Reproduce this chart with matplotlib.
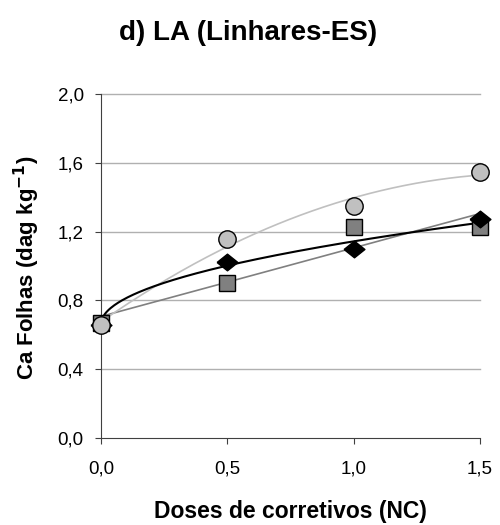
import numpy as np
import matplotlib
matplotlib.use("Agg")
import matplotlib.pyplot as plt

plt.rcParams["font.family"] = ["Liberation Sans", "DejaVu Sans"]

doses = [0.0, 0.5, 1.0, 1.5]
ca_diamond = [0.66, 1.025, 1.10, 1.275]
ca_square = [0.67, 0.90, 1.23, 1.225]
ca_circle = [0.66, 1.16, 1.35, 1.545]

yticks = [0.0, 0.4, 0.8, 1.2, 1.6, 2.0]
xticks = [0.0, 0.5, 1.0, 1.5]

x = np.array(doses)
xs = np.linspace(0, 1.5, 200)

# trend lines
A = np.vstack([np.ones_like(x), np.sqrt(x)]).T
c_d = np.linalg.lstsq(A, np.array(ca_diamond), rcond=None)[0]
fit_d = c_d[0] + c_d[1] * np.sqrt(xs)
fit_s = np.polyval(np.polyfit(x, ca_square, 1), xs)
fit_c = np.polyval(np.polyfit(x, ca_circle, 2), xs)

fig = plt.figure(figsize=(5, 5.25), dpi=100)
ax = fig.add_axes([0.202, 0.1657, 0.758, 0.655])

ax.plot(xs, fit_s, color="#808080", lw=1.2, zorder=2)
ax.plot(xs, fit_c, color="#c0c0c0", lw=1.2, zorder=2)
ax.plot(xs, fit_d, color="black", lw=1.5, zorder=3)

diamond = [(-1, 0), (0, 0.8), (1, 0), (0, -0.8), (-1, 0)]
ax.plot(doses, ca_square, ls="", marker="s", ms=12, mfc="#808080", mec="black", mew=1, zorder=4)
ax.plot(doses, ca_diamond, ls="", marker=diamond, ms=15, mfc="black", mec="black", zorder=5)
ax.plot(doses, ca_circle, ls="", marker="o", ms=12.5, mfc="#c0c0c0", mec="black", mew=1, zorder=6)

ax.set_xlim(0, 1.5)
ax.set_ylim(0, 2.0)
ax.set_xticks(xticks)
ax.set_yticks(yticks)
ax.set_xticklabels([f"{t:.1f}".replace(".", ",") for t in xticks], fontsize=13.5)
ax.set_yticklabels([f"{t:.1f}".replace(".", ",") for t in yticks], fontsize=13.5)
for t in yticks[1:]:
    ax.axhline(t, color="#b0b0b0", lw=1, zorder=1)

for s in ["top", "right"]:
    ax.spines[s].set_visible(False)
ax.spines["left"].set_color("#404040")
ax.spines["bottom"].set_color("#404040")
ax.tick_params(direction="out", length=4.5, color="#404040")
ax.tick_params(axis="x", pad=12)
ax.tick_params(axis="y", pad=8)
for art in ax.get_lines():
    art.set_clip_on(False)

fig.text(0.58, 0.0255, "Doses de corretivos (NC)", ha="center", va="center",
         fontsize=16.5, fontweight="bold")
fig.text(0.054, 0.491, "Ca Folhas (dag kg$^{\\mathbf{-1}}$)", ha="center", va="center",
         rotation=90, fontsize=16, fontweight="bold")
fig.text(0.496, 0.937, "d) LA (Linhares-ES)", ha="center", va="center",
         fontsize=20, fontweight="bold")

fig.savefig("out.png", dpi=100)
